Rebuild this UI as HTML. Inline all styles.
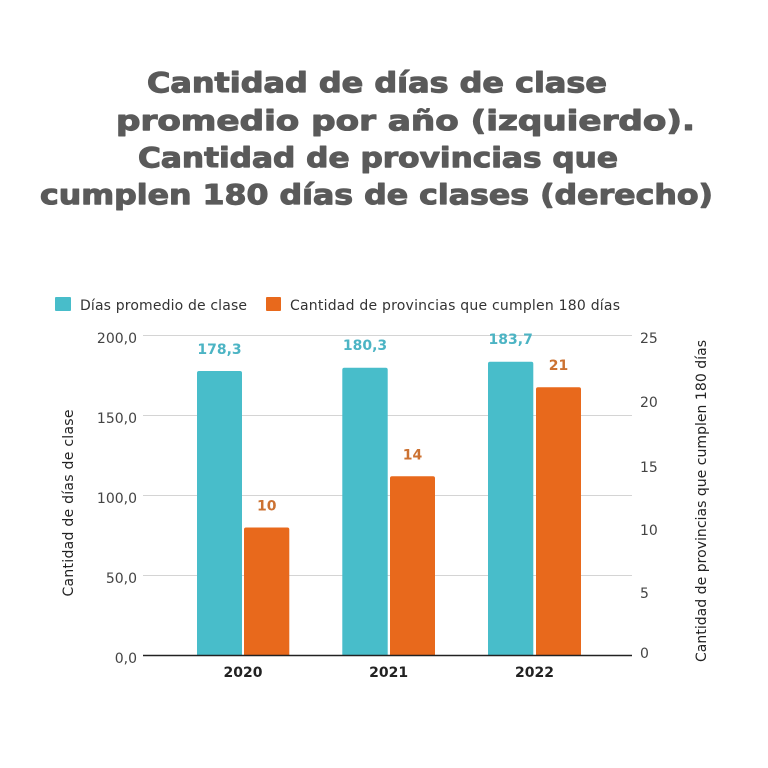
<!DOCTYPE html>
<html>
<head>
<meta charset="utf-8">
<style>
html,body{margin:0;padding:0;background:#fff;}
svg{display:block;}
</style>
</head>
<body>
<svg width="768" height="768" viewBox="0 0 768 768" xmlns="http://www.w3.org/2000/svg">
  <rect width="768" height="768" fill="#fff"/>
  <!-- Title -->
  <g font-family="'DejaVu Sans', 'Liberation Sans', sans-serif" font-weight="bold" font-size="28" fill="#5a5a5a" stroke="#5a5a5a" stroke-width="1.1" stroke-linejoin="round">
    <text x="147" y="92" textLength="460" lengthAdjust="spacingAndGlyphs">Cantidad de días de clase</text>
    <text x="116" y="130" textLength="579" lengthAdjust="spacingAndGlyphs">promedio por año (izquierdo).</text>
    <text x="138" y="167" textLength="480" lengthAdjust="spacingAndGlyphs">Cantidad de provincias que</text>
    <text x="40" y="204" textLength="673" lengthAdjust="spacingAndGlyphs">cumplen 180 días de clases (derecho)</text>
  </g>

  <!-- Legend -->
  <rect x="55" y="297" width="16" height="14" rx="1" fill="#48bdca"/>
  <text x="80" y="310" font-family="'DejaVu Sans', sans-serif" font-size="14" fill="#333" textLength="167" lengthAdjust="spacing">Días promedio de clase</text>
  <rect x="266" y="297" width="15" height="14" rx="1" fill="#e8691c"/>
  <text x="290" y="310" font-family="'DejaVu Sans', sans-serif" font-size="14" fill="#333" textLength="330" lengthAdjust="spacing">Cantidad de provincias que cumplen 180 días</text>

  <!-- Gridlines -->
  <g stroke="#d4d4d4" stroke-width="1">
    <line x1="143" y1="335.5" x2="632" y2="335.5"/>
    <line x1="143" y1="415.5" x2="632" y2="415.5"/>
    <line x1="143" y1="495.5" x2="632" y2="495.5"/>
    <line x1="143" y1="575.5" x2="632" y2="575.5"/>
  </g>

  <!-- Bars -->
  <g fill="#48bdca">
    <path d="M197,655.5 V373 Q197,371 199,371 H240 Q242,371 242,373 V655.5 Z"/>
    <path d="M342.3,655.5 V369.7 Q342.3,367.7 344.3,367.7 H385.7 Q387.7,367.7 387.7,369.7 V655.5 Z"/>
    <path d="M488,655.5 V363.7 Q488,361.7 490,361.7 H531.3 Q533.3,361.7 533.3,363.7 V655.5 Z"/>
  </g>
  <g fill="#e8691c">
    <path d="M244,655.5 V529.5 Q244,527.5 246,527.5 H287.3 Q289.3,527.5 289.3,529.5 V655.5 Z"/>
    <path d="M390,655.5 V478.3 Q390,476.3 392,476.3 H433 Q435,476.3 435,478.3 V655.5 Z"/>
    <path d="M536,655.5 V389.3 Q536,387.3 538,387.3 H579 Q581,387.3 581,389.3 V655.5 Z"/>
  </g>

  <!-- Zero line -->
  <line x1="143" y1="655.5" x2="632" y2="655.5" stroke="#222" stroke-width="1.5"/>

  <!-- Data labels -->
  <g font-family="'DejaVu Sans', sans-serif" font-weight="bold" font-size="14" text-anchor="middle">
    <text x="219.5" y="354" fill="#4cb4c4">178,3</text>
    <text x="365" y="350" fill="#4cb4c4">180,3</text>
    <text x="510.7" y="344" fill="#4cb4c4">183,7</text>
    <text x="266.7" y="510.5" fill="#cc7232">10</text>
    <text x="412.5" y="459.3" fill="#cc7232">14</text>
    <text x="558.5" y="370" fill="#cc7232">21</text>
  </g>

  <!-- Left tick labels -->
  <g font-family="'DejaVu Sans', sans-serif" font-size="14" fill="#444" text-anchor="end">
    <text x="137" y="343">200,0</text>
    <text x="137" y="423">150,0</text>
    <text x="137" y="503">100,0</text>
    <text x="137" y="583">50,0</text>
    <text x="137" y="663">0,0</text>
  </g>

  <!-- Right tick labels -->
  <g font-family="'DejaVu Sans', sans-serif" font-size="14" fill="#444">
    <text x="640" y="343">25</text>
    <text x="640" y="407">20</text>
    <text x="640" y="472">15</text>
    <text x="640" y="535">10</text>
    <text x="640" y="598">5</text>
    <text x="640" y="658">0</text>
  </g>

  <!-- Year labels -->
  <g font-family="'DejaVu Sans', sans-serif" font-weight="bold" font-size="14" fill="#222" text-anchor="middle">
    <text x="243" y="677">2020</text>
    <text x="388.6" y="677">2021</text>
    <text x="534.5" y="677">2022</text>
  </g>

  <!-- Axis titles -->
  <text transform="translate(68,503) rotate(-90)" x="-93.5" y="5" font-family="'DejaVu Sans', sans-serif" font-size="14" fill="#222" textLength="187" lengthAdjust="spacing">Cantidad de días de clase</text>
  <text transform="translate(701,501) rotate(-90)" x="-161" y="5" font-family="'DejaVu Sans', sans-serif" font-size="14" fill="#222" textLength="322" lengthAdjust="spacing">Cantidad de provincias que cumplen 180 días</text>
</svg>
</body>
</html>
